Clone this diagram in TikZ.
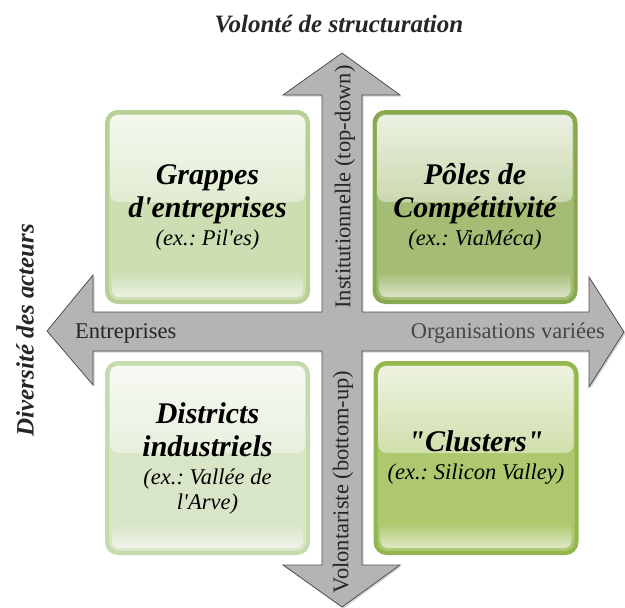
\documentclass[tikz,border=0pt]{standalone}
\usepackage{fontspec}
\setmainfont{Liberation Serif}[Ligatures=TeXOff]
\frenchspacing
\usetikzlibrary{shadows}
\definecolor{crossgray}{HTML}{B4B4B4}
\definecolor{crossline}{HTML}{505050}
\definecolor{grappesfill}{HTML}{CCDEB2}
\definecolor{grappesline}{HTML}{B8D096}
\definecolor{polesfill}{HTML}{A4BC74}
\definecolor{polesline}{HTML}{88A950}
\definecolor{districtsfill}{HTML}{D8E5C6}
\definecolor{districtsline}{HTML}{C6DAAE}
\definecolor{clustersfill}{HTML}{AEC86F}
\definecolor{clustersline}{HTML}{93B64F}
\tikzset{
quad/.style 2 args={draw=#2, fill=#1, line width=4pt, rounded corners=11pt,
  minimum width=201pt, minimum height=190pt, align=center,
  font=\fontsize{30}{33}\selectfont\bfseries\itshape,
  path picture={
    % upper sheen
    \shade[top color=white!80!#1, bottom color=#1, rounded corners=8pt]
      ([xshift=3pt,yshift=-3pt]path picture bounding box.north west)
      rectangle ([xshift=-3pt,yshift=5pt]path picture bounding box.east);
    % lower strip
    \shade[top color=#1, bottom color=white!60!#1, rounded corners=7pt]
      ([xshift=5pt,yshift=5pt]path picture bounding box.south west)
      rectangle ([xshift=-5pt,yshift=30pt]path picture bounding box.south east);
  }}, % rounded glossy box
axis title/.style={font=\fontsize{25}{28}\selectfont\bfseries\itshape, text=black!85},
axis label/.style={font=\fontsize{22.5}{25}\selectfont, text=black!85, inner sep=0pt},
}
\newcommand{\quadsub}[1]{{\fontsize{22.5}{25}\selectfont\mdseries\itshape #1}}

\begin{document}
\begin{tikzpicture}[x=1pt, y=-1pt]
    \useasboundingbox (0,0) rectangle (625,608);

    % the cross of arrows
    \path[draw=crossline, fill=crossgray, line width=0.8pt, line join=miter,
      drop shadow={shadow xshift=1.5pt, shadow yshift=-1.5pt, opacity=.35}]
      (47,331) -- (93,275) -- (93,312) -- (322,312) -- (322,95) -- (283,95)
      -- (342,53) -- (400,95) -- (362,95) -- (362,312) -- (589,312)
      -- (589,277) -- (624,332) -- (589,387) -- (589,351) -- (362,351)
      -- (362,565) -- (400,565) -- (342,607) -- (283,565) -- (322,565)
      -- (322,351) -- (93,351) -- (93,385) -- cycle;

    % quadrants
    \node[quad={grappesfill}{grappesline}] (grappes) at (207.5,207)
      {Grappes\\ d'entreprises\\[-5pt] \quadsub{(ex.: Pil'es)}};
    \node[quad={polesfill}{polesline}] (poles) at (475,207)
      {Pôles de\\ Compétitivité\\[-5pt] \quadsub{(ex.: ViaMéca)}};
    \node[quad={districtsfill}{districtsline}] (districts) at (207.5,458)
      {Districts\\ industriels\\[-5pt] \quadsub{(ex.: Vallée de}\\[-8pt] \quadsub{l'Arve)}};
    \node[quad={clustersfill}{clustersline}] (clusters) at (476,458)
      {"Clusters"\\[-5pt] \quadsub{(ex.: Silicon Valley)}};

    % axis titles
    \node[axis title] (structuration) at (339,24) {Volonté de structuration};
    \node[axis title, rotate=90] (acteurs) at (25,330) {Diversité des acteurs};

    % arrow labels
    \node[axis label, anchor=west] (entreprises) at (75,333) {Entreprises};
    \node[axis label, anchor=east, text=black!72] (organisations) at (605,333) {Organisations variées};
    \node[axis label, rotate=90] (institution) at (345,187) {Institutionnelle (top-down)};
    \node[axis label, rotate=90] (volontariste) at (343,482) {Volontariste (bottom-up)};
\end{tikzpicture}
\end{document}
